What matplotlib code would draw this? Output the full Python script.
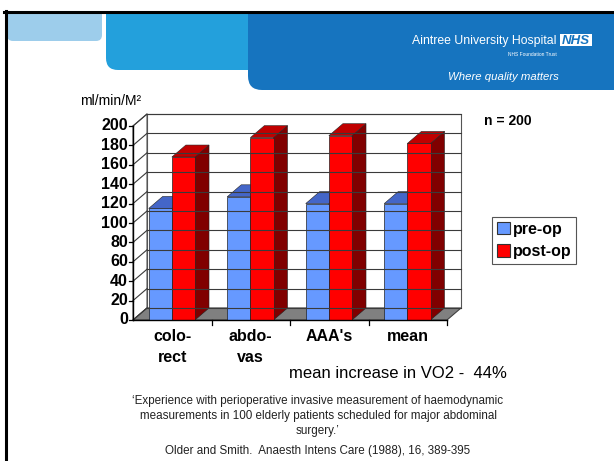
import matplotlib
matplotlib.use("Agg")
from matplotlib import pyplot as plt
from matplotlib.patches import Polygon, Rectangle, FancyBboxPatch, Patch

plt.rcParams['font.family'] = ['Liberation Sans', 'DejaVu Sans']

# data
categories = ["colo-\nrect", "abdo-\nvas", "AAA's", "mean"]
pre_op = [115, 127, 120, 120]
post_op = [168, 188, 190, 182]
series_names = ["pre-op", "post-op"]
y_ticks = [0, 20, 40, 60, 80, 100, 120, 140, 160, 180, 200]

# colours: front, top, side
blue = ("#6699FF", "#4466C8", "#3355AA")
red = ("#FF0000", "#C00000", "#800000")

W, H = 614, 461
fig = plt.figure(figsize=(W / 100, H / 100), dpi=100)

# slide background / banner in pixel coords
bg = fig.add_axes([0, 0, 1, 1])
bg.set_xlim(0, W)
bg.set_ylim(H, 0)
bg.axis("off")

bg.add_patch(FancyBboxPatch((7, -30), 95, 71, boxstyle="round,pad=0,rounding_size=6",
                            fc="#9DCDEB", ec="none"))
bg.add_patch(FancyBboxPatch((106, -30), 200, 100, boxstyle="round,pad=0,rounding_size=12",
                            fc="#23A0DC", ec="none"))
bg.add_patch(FancyBboxPatch((248, -30), 420, 120, boxstyle="round,pad=0,rounding_size=14",
                            fc="#1674BF", ec="none"))
# white strip above the slide frame
bg.add_patch(Rectangle((0, 0), W, 11, fc="white", ec="none"))
bg.plot([4, W], [12, 12], color="black", lw=2.2)
bg.plot([5.5, 5.5], [11, H], color="black", lw=2.2)

bg.text(557, 41, "Aintree University Hospital", color="white", fontsize=8.8,
        ha="right", va="center")
bg.add_patch(Rectangle((560, 34), 32, 12, fc="white", ec="none"))
bg.text(576, 40.5, "NHS", color="#1674BF", fontsize=9.5, fontweight="bold",
        fontstyle="italic", ha="center", va="center")
bg.text(557, 55, "NHS Foundation Trust", color="white", fontsize=3.5,
        ha="right", va="center")
bg.text(503, 77, "Where quality matters", color="white", fontsize=8.2,
        fontstyle="italic", ha="center", va="center")

bg.text(80, 101, "ml/min/M²", fontsize=10, ha="left", va="center")
bg.text(484, 121, "n = 200", fontsize=10, fontweight="bold", ha="left", va="center")
bg.text(289, 373, "mean increase in VO2 -  44%", fontsize=12, ha="left", va="center")
bg.text(318, 416, "\u2018Experience with perioperative invasive measurement of haemodynamic\n"
        "measurements in 100 elderly patients scheduled for major abdominal\n"
        "surgery.\u2019", fontsize=8.4, ha="center", va="center", linespacing=1.3,
        color="#222222")
bg.text(318, 451, "Older and Smith.  Anaesth Intens Care (1988), 16, 389-395",
        fontsize=8.4, ha="center", va="center", color="#222222")

# chart axes: front plane x=category units, y=value units
x0px, catpx = 133, 78.5
y0px, unitpx = 320, 0.97
ax = fig.add_axes([0, 0, 1, 1])
ax.set_xlim(-x0px / catpx, (W - x0px) / catpx)
ax.set_ylim(-(H - y0px) / unitpx, y0px / unitpx)
ax.axis("off")
ax.patch.set_alpha(0)

DX, DY = 14 / catpx, 12 / unitpx
n = len(categories)
ymax = y_ticks[-1]
grid_c = "#3a3a3a"

# back wall and side wall
ax.add_patch(Rectangle((DX, DY), n, ymax, fc="white", ec="#555555", lw=0.8))
ax.add_patch(Polygon([(0, 0), (DX, DY), (DX, ymax + DY), (0, ymax)], closed=True,
                     fc="white", ec="#555555", lw=0.8))
for v in y_ticks:
    ax.plot([DX, n + DX], [v + DY, v + DY], color=grid_c, lw=0.8)
    ax.plot([0, DX], [v, v + DY], color=grid_c, lw=0.8)
    ax.plot([-4 / catpx, 0], [v, v], color="black", lw=0.9)
    ax.text(-5 / catpx, v, str(v), fontsize=11.5, fontweight="bold",
            ha="right", va="center")

# floor
ax.add_patch(Polygon([(0, 0), (n, 0), (n + DX, DY), (DX, DY)], closed=True,
                     fc="#808080", ec="#404040", lw=0.8))

# bars
gap, bw = 0.2, 0.295


def bar3d(x, h, cols):
    front, top, side = cols
    ax.add_patch(Polygon([(x + bw, 0), (x + bw + DX, DY), (x + bw + DX, h + DY), (x + bw, h)],
                         closed=True, fc=side, ec="#222222", lw=0.4))
    ax.add_patch(Polygon([(x, h), (x + bw, h), (x + bw + DX, h + DY), (x + DX, h + DY)],
                         closed=True, fc=top, ec="#222222", lw=0.4))
    ax.add_patch(Rectangle((x, 0), bw, h, fc=front, ec="#222222", lw=0.5))


for i in range(n):
    bar3d(i + gap, pre_op[i], blue)
    bar3d(i + gap + bw, post_op[i], red)

# front axes
ax.plot([0, 0], [0, ymax], color="black", lw=1)
ax.plot([0, n], [0, 0], color="black", lw=1)
for i in range(1, n + 1):
    ax.plot([i, i], [0, -5], color="black", lw=0.9)
for i, lab in enumerate(categories):
    ax.text(i + 0.5, -9, lab, fontsize=11.5, fontweight="bold", ha="center",
            va="top", linespacing=1.5)

handles = [Patch(fc=blue[0], ec="#333333", lw=0.8), Patch(fc=red[0], ec="#333333", lw=0.8)]
leg = ax.legend(handles, series_names, loc="upper left",
                bbox_to_anchor=(492 / W, 1 - 217 / H), bbox_transform=fig.transFigure,
                prop={"weight": "bold", "size": 11.5}, fancybox=False, framealpha=1,
                edgecolor="#555555", handlelength=0.8, handleheight=0.8,
                handletextpad=0.2, labelspacing=0.45, borderpad=0.3,
                borderaxespad=0)
leg.get_frame().set_linewidth(0.8)

fig.savefig("out.png", dpi=100)
